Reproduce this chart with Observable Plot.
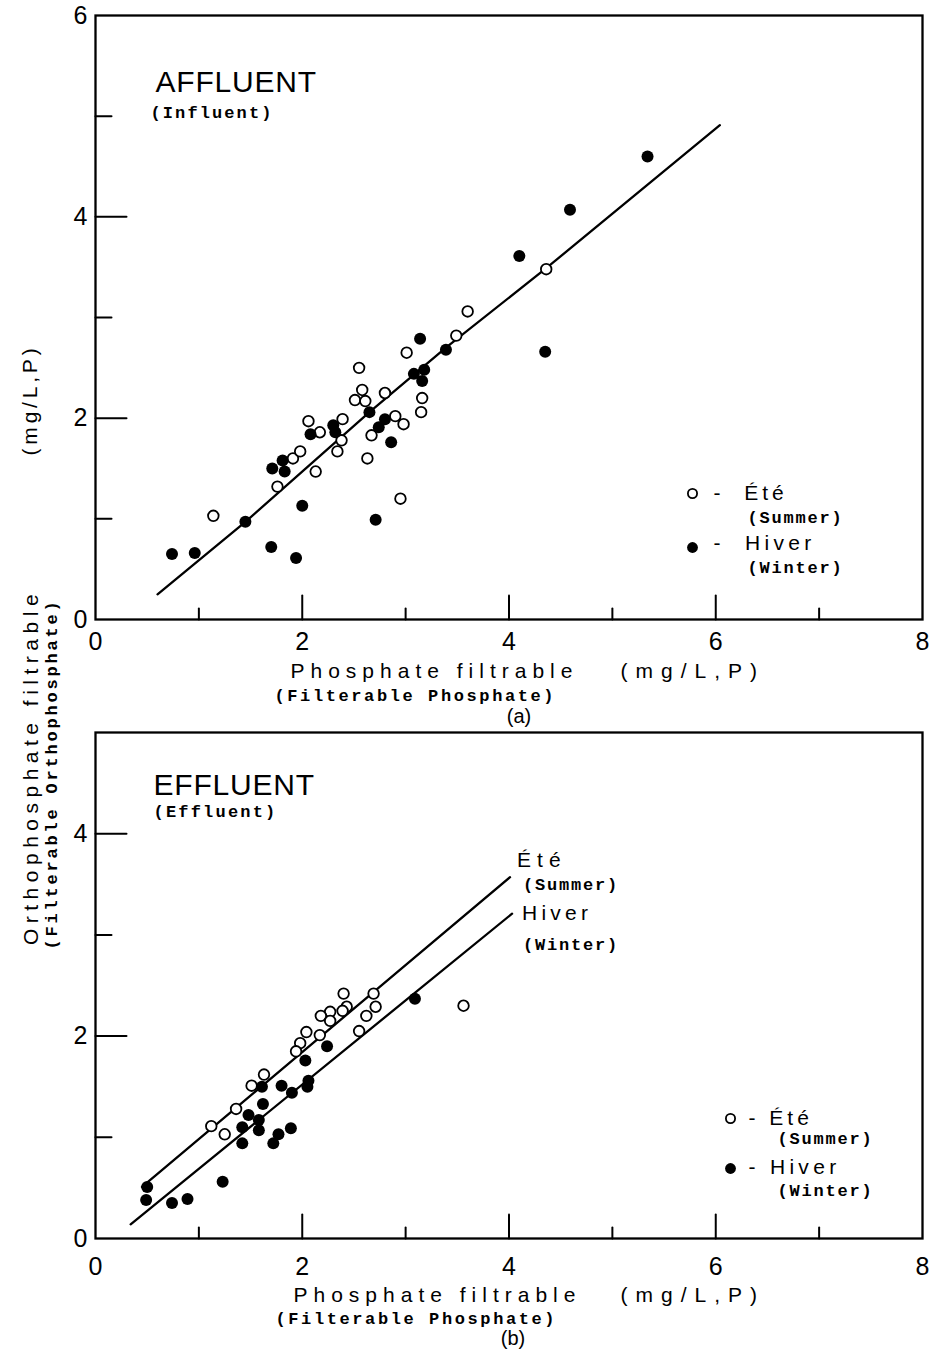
<!DOCTYPE html>
<html>
<head>
<meta charset="utf-8">
<script src="https://cdn.jsdelivr.net/npm/d3@7"></script>
<script src="https://cdn.jsdelivr.net/npm/@observablehq/plot@0.6"></script>
<style>
  body { margin: 0; background: #fff; }
  #root { position: relative; width: 934px; height: 1362px; background: #fff; overflow: hidden; }
  .panel { position: absolute; left: 0; }
  .ylab { position: absolute; white-space: nowrap; transform: translate(-50%, -50%) rotate(-90deg); color: #000; line-height: 1; }
</style>
</head>
<body>
<div id="root"></div>
<script>
// ---------- data ----------
const xTickLabels = [0, 2, 4, 6, 8];
const yTickLabelsA = [0, 2, 4, 6];
const yTickLabelsB = [0, 2, 4];
const xMajorTicks = [2, 4, 6];
const xMinorTicks = [1, 3, 5, 7];
const yMajorTicksA = [2, 4];
const yMinorTicksA = [1, 3, 5];
const yMajorTicksB = [2, 4];
const yMinorTicksB = [1, 3];

// (a) Affluent / Influent : [filterable phosphate, filterable orthophosphate]
const influentSummer = [
  [1.14,1.03],[1.76,1.32],[1.91,1.60],[1.98,1.67],[2.06,1.97],[2.17,1.86],[2.13,1.47],
  [2.39,1.99],[2.38,1.78],[2.34,1.67],[2.55,2.50],[2.58,2.28],[2.51,2.18],[2.61,2.17],
  [2.67,1.83],[2.63,1.60],[2.80,2.25],[2.90,2.02],[2.98,1.94],[2.95,1.20],[3.01,2.65],
  [3.16,2.20],[3.15,2.06],[3.49,2.82],[3.60,3.06],[4.36,3.48]
];
const influentWinter = [
  [0.74,0.65],[0.96,0.66],[1.45,0.97],[1.70,0.72],[1.94,0.61],[2.00,1.13],[1.71,1.50],
  [1.81,1.58],[1.83,1.47],[2.08,1.84],[2.30,1.93],[2.32,1.86],[2.65,2.06],[2.71,0.99],
  [2.74,1.91],[2.80,1.99],[2.86,1.76],[3.08,2.44],[3.18,2.48],[3.16,2.37],[3.14,2.79],
  [3.39,2.68],[4.10,3.61],[4.59,4.07],[4.35,2.66],[5.34,4.60]
];
const influentFit = [[0.60,0.25],[1.45,0.97],[2.65,2.06],[3.39,2.70],[4.36,3.49],[6.04,4.91]];

// (b) Effluent
const effluentSummer = [
  [2.40,2.42],[2.69,2.42],[2.71,2.29],[2.62,2.20],[2.43,2.29],[2.39,2.25],[2.27,2.24],
  [2.18,2.20],[2.27,2.15],[2.17,2.01],[2.55,2.05],[2.04,2.04],[1.98,1.93],[1.94,1.85],
  [1.63,1.62],[1.51,1.51],[1.36,1.28],[1.12,1.11],[1.25,1.03],[3.56,2.30]
];
const effluentWinter = [
  [0.50,0.51],[0.49,0.38],[0.74,0.35],[0.89,0.39],[1.23,0.56],[1.42,0.94],[1.42,1.10],
  [1.48,1.22],[1.58,1.17],[1.58,1.07],[1.62,1.33],[1.61,1.50],[1.72,0.94],[1.77,1.03],
  [1.89,1.09],[1.80,1.51],[1.90,1.44],[2.05,1.50],[2.06,1.56],[2.03,1.76],[2.24,1.90],
  [3.09,2.37]
];
const effluentSummerFit = [[0.45,0.51],[4.01,3.57]];
const effluentWinterFit = [[0.34,0.14],[4.03,3.21]];

// ---------- styling ----------
const SANS = "Liberation Sans, Arial, sans-serif";
const MONO = "Liberation Mono, DejaVu Sans Mono, monospace";
const spacing = {
  "AFFLUENT": 0.8, "EFFLUENT": 0.8,
  "Phosphate filtrable": 6, "(mg/L,P)": 8,
  "(Filterable Phosphate)": 2.6,
  "(Influent)": 2.1, "(Effluent)": 2.2,
  "(Summer)": 1.8, "(Winter)": 1.8,
  "-\u00a0\u00a0Été": 4, "-\u00a0\u00a0Hiver": 4.3,
  "-\u00a0Été": 4, "-\u00a0Hiver": 4.3,
  "Été": 6, "Hiver": 4.2
};

const X = d => d[0], Y = d => d[1];
const tickShape = { draw(context, l) { context.moveTo(0, 0); context.lineTo(0, -l); } };
const intFmt = d => String(d);

function tickMarks(yMajor, yMinor) {
  const o = { anchor: "start", shape: tickShape, stroke: "black", strokeWidth: 2 };
  return [
    Plot.vector(xMajorTicks, { x: d => d, y: 0, length: 24, rotate: 0, ...o }),
    Plot.vector(xMinorTicks, { x: d => d, y: 0, length: 11, rotate: 0, ...o }),
    Plot.vector(yMajor, { x: 0, y: d => d, length: 31, rotate: 90, ...o }),
    Plot.vector(yMinor, { x: 0, y: d => d, length: 16, rotate: 90, ...o })
  ];
}
const txt = (s, o) => Plot.text([s], {
  text: d => d, fill: "black", fontFamily: SANS, textAnchor: "start", lineAnchor: "top", ...o
});
const mono = { fontFamily: MONO, fontWeight: "bold", fontSize: 17 };

function finish(svg) {
  d3.select(svg).selectAll("text").each(function () {
    const s = spacing[this.textContent];
    if (s != null) this.setAttribute("letter-spacing", s);
  });
  return svg;
}

const common = {
  width: 934, marginLeft: 95, marginRight: 12,
  x: { domain: [0, 8] },
  style: { background: "transparent", color: "black", fontFamily: SANS, overflow: "visible" }
};

// ---------- panel (a) ----------
const plotA = Plot.plot({
  ...common,
  height: 730, marginTop: 15, marginBottom: 111,
  y: { domain: [0, 6] },
  marks: [
    ...tickMarks(yMajorTicksA, yMinorTicksA),
    Plot.axisX({ ticks: xTickLabels, tickFormat: intFmt, tickSize: 0, tickPadding: 13, fontSize: 25, label: null }),
    Plot.axisY({ ticks: yTickLabelsA, tickFormat: intFmt, tickSize: 0, tickPadding: 8, fontSize: 25, label: null }),
    Plot.frame({ stroke: "black", strokeWidth: 2.3 }),
    Plot.line(influentFit, { x: X, y: Y, stroke: "black", strokeWidth: 2.3 }),
    Plot.dot(influentSummer, { x: X, y: Y, r: 5.3, fill: "white", stroke: "black", strokeWidth: 1.8 }),
    Plot.dot(influentWinter, { x: X, y: Y, r: 6, fill: "black", stroke: null }),
    txt("AFFLUENT", { frameAnchor: "top-left", dx: 60, dy: 55, fontSize: 30 }),
    txt("(Influent)", { frameAnchor: "top-left", dx: 55, dy: 90, ...mono }),
    Plot.dot([0], { frameAnchor: "bottom-right", dx: -230, dy: -126, r: 4.6, fill: "white", stroke: "black", strokeWidth: 1.8 }),
    Plot.dot([0], { frameAnchor: "bottom-right", dx: -230, dy: -72, r: 5.4, fill: "black", stroke: null }),
    txt("-\u00a0\u00a0Été", { frameAnchor: "bottom-right", dx: -209, dy: -126, lineAnchor: "middle", fontSize: 21 }),
    txt("(Summer)", { frameAnchor: "bottom-right", dx: -175, dy: -102, lineAnchor: "middle", ...mono }),
    txt("-\u00a0\u00a0Hiver", { frameAnchor: "bottom-right", dx: -209, dy: -76, lineAnchor: "middle", fontSize: 21 }),
    txt("(Winter)", { frameAnchor: "bottom-right", dx: -175, dy: -52, lineAnchor: "middle", ...mono }),
    txt("Phosphate filtrable", { frameAnchor: "bottom", dx: -218.5, dy: 44, fontSize: 21 }),
    txt("(mg/L,P)", { frameAnchor: "bottom", dx: 111.5, dy: 44, fontSize: 21 }),
    txt("(Filterable Phosphate)", { frameAnchor: "bottom", dx: -234.5, dy: 69, ...mono }),
    txt("(a)", { frameAnchor: "bottom", dx: 10, dy: 89, fontSize: 20, textAnchor: "middle" })
  ]
});

// ---------- panel (b) ----------
const plotB = Plot.plot({
  ...common,
  height: 647, marginTop: 17, marginBottom: 124,
  y: { domain: [0, 5] },
  marks: [
    ...tickMarks(yMajorTicksB, yMinorTicksB),
    Plot.axisX({ ticks: xTickLabels, tickFormat: intFmt, tickSize: 0, tickPadding: 19, fontSize: 25, label: null }),
    Plot.axisY({ ticks: yTickLabelsB, tickFormat: intFmt, tickSize: 0, tickPadding: 8, fontSize: 25, label: null }),
    Plot.frame({ stroke: "black", strokeWidth: 2.3 }),
    Plot.line(effluentSummerFit, { x: X, y: Y, stroke: "black", strokeWidth: 2.3 }),
    Plot.line(effluentWinterFit, { x: X, y: Y, stroke: "black", strokeWidth: 2.3 }),
    Plot.dot(effluentSummer, { x: X, y: Y, r: 5.3, fill: "white", stroke: "black", strokeWidth: 1.8 }),
    Plot.dot(effluentWinter, { x: X, y: Y, r: 6, fill: "black", stroke: null }),
    Plot.text([effluentSummerFit[effluentSummerFit.length - 1]], { x: X, y: Y, text: () => "Été", dx: 7, dy: -17, textAnchor: "start", lineAnchor: "middle", fontSize: 21, fontFamily: SANS, fill: "black" }),
    Plot.text([effluentSummerFit[effluentSummerFit.length - 1]], { x: X, y: Y, text: () => "(Summer)", dx: 13, dy: 7, textAnchor: "start", lineAnchor: "middle", ...mono, fill: "black" }),
    Plot.text([effluentWinterFit[effluentWinterFit.length - 1]], { x: X, y: Y, text: () => "Hiver", dx: 10, dy: 0, textAnchor: "start", lineAnchor: "middle", fontSize: 21, fontFamily: SANS, fill: "black" }),
    Plot.text([effluentWinterFit[effluentWinterFit.length - 1]], { x: X, y: Y, text: () => "(Winter)", dx: 11, dy: 31, textAnchor: "start", lineAnchor: "middle", ...mono, fill: "black" }),
    txt("EFFLUENT", { frameAnchor: "top-left", dx: 58, dy: 41, fontSize: 30 }),
    txt("(Effluent)", { frameAnchor: "top-left", dx: 58, dy: 72, ...mono }),
    Plot.dot([0], { frameAnchor: "bottom-right", dx: -192, dy: -120, r: 4.6, fill: "white", stroke: "black", strokeWidth: 1.8 }),
    Plot.dot([0], { frameAnchor: "bottom-right", dx: -192, dy: -70, r: 5.4, fill: "black", stroke: null }),
    txt("-\u00a0Été", { frameAnchor: "bottom-right", dx: -174, dy: -120, lineAnchor: "middle", fontSize: 21 }),
    txt("(Summer)", { frameAnchor: "bottom-right", dx: -145, dy: -100, lineAnchor: "middle", ...mono }),
    txt("-\u00a0Hiver", { frameAnchor: "bottom-right", dx: -174, dy: -71, lineAnchor: "middle", fontSize: 21 }),
    txt("(Winter)", { frameAnchor: "bottom-right", dx: -145, dy: -48, lineAnchor: "middle", ...mono }),
    txt("Phosphate filtrable", { frameAnchor: "bottom", dx: -215.5, dy: 49, fontSize: 21 }),
    txt("(mg/L,P)", { frameAnchor: "bottom", dx: 111.5, dy: 49, fontSize: 21 }),
    txt("(Filterable Phosphate)", { frameAnchor: "bottom", dx: -233.5, dy: 73, ...mono }),
    txt("(b)", { frameAnchor: "bottom", dx: 4, dy: 92, fontSize: 20, textAnchor: "middle" })
  ]
});

const root = document.getElementById("root");
const a = finish(plotA); a.classList.add("panel"); a.style.top = "0px";
const b = finish(plotB); b.classList.add("panel"); b.style.top = "715px";
root.appendChild(a);
root.appendChild(b);

// shared y-axis label
const yLabels = [
  { text: "(mg/L,P)", x: 29, y: 400, font: SANS, size: 21, ls: 3.8, weight: "normal" },
  { text: "Orthophosphate filtrable", x: 30, y: 767, font: SANS, size: 21, ls: 5.5, weight: "normal" },
  { text: "(Filterable Orthophosphate)", x: 52, y: 774, font: MONO, size: 17, ls: 2.8, weight: "bold" }
];
for (const l of yLabels) {
  const d = document.createElement("div");
  d.className = "ylab";
  d.textContent = l.text;
  d.style.left = l.x + "px";
  d.style.top = l.y + "px";
  d.style.fontFamily = l.font;
  d.style.fontSize = l.size + "px";
  d.style.letterSpacing = l.ls + "px";
  d.style.fontWeight = l.weight;
  root.appendChild(d);
}
</script>
</body>
</html>
